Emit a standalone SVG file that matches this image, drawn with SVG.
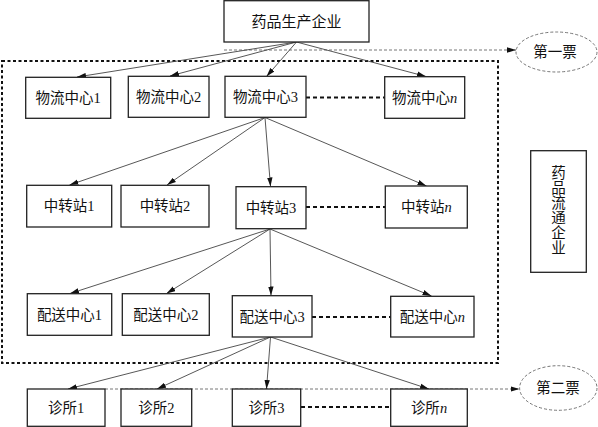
<svg xmlns="http://www.w3.org/2000/svg" width="598" height="427" viewBox="0 0 598 427">
<defs>
<marker id="ah" markerUnits="userSpaceOnUse" markerWidth="9" markerHeight="6" refX="9" refY="3" orient="auto">
<path d="M0,0.3 L9,3 L0,5.7 z" fill="#111"/>
</marker>
<style>
.box{fill:#fff;stroke:#222;stroke-width:1.3}
.t{font-family:"Liberation Serif","Noto Sans CJK SC",serif;font-size:14.5px;fill:#111;text-anchor:middle}
.e{fill:none;stroke:#444;stroke-width:0.9}
.dots{stroke:#111;stroke-width:2;stroke-dasharray:4 3;fill:none}
.gd{stroke:#777;stroke-width:1;stroke-dasharray:3 2;fill:none}
.ell{fill:#fff;stroke:#666;stroke-width:0.9;stroke-dasharray:3 2}
</style>
</defs>
<rect x="2" y="61" width="496" height="302" fill="none" stroke="#111" stroke-width="2" stroke-dasharray="3 2.5"/>
<g id="connectors">
<line class="gd" x1="224" y1="50" x2="516" y2="50" marker-end="url(#ah)"/>
<line class="gd" x1="105" y1="389" x2="519.5" y2="389" marker-end="url(#ah)"/>
<line class="e" x1="296.5" y1="42" x2="77" y2="77" marker-end="url(#ah)"/>
<line class="e" x1="296.5" y1="42" x2="170" y2="76" marker-end="url(#ah)"/>
<line class="e" x1="296.5" y1="42" x2="266.5" y2="76.5" marker-end="url(#ah)"/>
<line class="e" x1="296.5" y1="42" x2="426" y2="76.5" marker-end="url(#ah)"/>
<line class="e" x1="265" y1="117.5" x2="69.5" y2="185" marker-end="url(#ah)"/>
<line class="e" x1="265" y1="117.5" x2="167" y2="185" marker-end="url(#ah)"/>
<line class="e" x1="265" y1="117.5" x2="270.5" y2="186.5" marker-end="url(#ah)"/>
<line class="e" x1="265" y1="117.5" x2="426.5" y2="186" marker-end="url(#ah)"/>
<line class="e" x1="270" y1="229" x2="70" y2="293.5" marker-end="url(#ah)"/>
<line class="e" x1="270" y1="229" x2="166.5" y2="293.5" marker-end="url(#ah)"/>
<line class="e" x1="270" y1="229" x2="271" y2="295.5" marker-end="url(#ah)"/>
<line class="e" x1="270" y1="229" x2="431.5" y2="296" marker-end="url(#ah)"/>
<line class="e" x1="270.5" y1="337" x2="68" y2="389" marker-end="url(#ah)"/>
<line class="e" x1="270.5" y1="337" x2="157" y2="389" marker-end="url(#ah)"/>
<line class="e" x1="270.5" y1="337" x2="266.5" y2="389" marker-end="url(#ah)"/>
<line class="e" x1="270.5" y1="337" x2="429" y2="389" marker-end="url(#ah)"/>
<line class="dots" x1="306" y1="97.5" x2="385" y2="97.5"/>
<line class="dots" x1="306" y1="207" x2="385" y2="207"/>
<line class="dots" x1="312" y1="317" x2="391" y2="317"/>
<line class="dots" x1="301" y1="407" x2="391" y2="407"/>
</g>
<g id="producer"><rect class="box" x="224" y="0.7" width="145" height="41.3"/><text class="t" x="296.5" y="26.5" style="font-size:15px">药品生产企业</text></g>
<g id="ticket1"><ellipse class="ell" cx="556.5" cy="52" rx="40.5" ry="20"/><text class="t" x="555" y="57">第一票</text></g>
<g id="ticket2"><ellipse class="ell" cx="558.3" cy="388" rx="38.7" ry="22.3"/><text class="t" x="558" y="393">第二票</text></g>
<g id="wl1"><rect class="box" x="25.7" y="77.3" width="85" height="41"/><text class="t" x="68.2" y="103">物流中心1</text></g>
<g id="wl2"><rect class="box" x="128.3" y="76.3" width="80.7" height="41"/><text class="t" x="168.6" y="102">物流中心2</text></g>
<g id="wl3"><rect class="box" x="225" y="76.3" width="81" height="41"/><text class="t" x="265.5" y="102">物流中心3</text></g>
<g id="wln"><rect class="box" x="384.7" y="76.7" width="80" height="41.6"/><text class="t" x="424.7" y="102.5">物流中心<tspan font-style="italic">n</tspan></text></g>
<g id="zz1"><rect class="box" x="26.7" y="185.3" width="85" height="41.7"/><text class="t" x="69.2" y="211">中转站1</text></g>
<g id="zz2"><rect class="box" x="121" y="185.3" width="88" height="41.7"/><text class="t" x="165" y="211">中转站2</text></g>
<g id="zz3"><rect class="box" x="236" y="186.7" width="70" height="42"/><text class="t" x="271" y="212.5">中转站3</text></g>
<g id="zzn"><rect class="box" x="385.3" y="186" width="82" height="42"/><text class="t" x="426.3" y="212">中转站<tspan font-style="italic">n</tspan></text></g>
<g id="ps1"><rect class="box" x="27.3" y="293.7" width="84.4" height="41.6"/><text class="t" x="69.5" y="319.5">配送中心1</text></g>
<g id="ps2"><rect class="box" x="122.3" y="293.7" width="87" height="41.6"/><text class="t" x="165.8" y="319.5">配送中心2</text></g>
<g id="ps3"><rect class="box" x="232.3" y="295.7" width="79.7" height="41.3"/><text class="t" x="272.2" y="321.5">配送中心3</text></g>
<g id="psn"><rect class="box" x="390.7" y="296.3" width="83.3" height="40.7"/><text class="t" x="432.3" y="322">配送中心<tspan font-style="italic">n</tspan></text></g>
<g id="zs1"><rect class="box" x="27.3" y="389" width="77.7" height="37.3"/><text class="t" x="66.2" y="413">诊所1</text></g>
<g id="zs2"><rect class="box" x="121" y="389" width="70.7" height="37.3"/><text class="t" x="156.3" y="413">诊所2</text></g>
<g id="zs3"><rect class="box" x="232.3" y="389" width="68.4" height="37.3"/><text class="t" x="266.5" y="413">诊所3</text></g>
<g id="zsn"><rect class="box" x="390.7" y="389" width="76.6" height="37.3"/><text class="t" x="429" y="413">诊所<tspan font-style="italic">n</tspan></text></g>
<g id="distributor"><rect class="box" x="530.7" y="150.7" width="55.6" height="121.6"/>
<text class="t" x="558.5" y="178">药</text><text class="t" x="558.5" y="193">品</text><text class="t" x="558.5" y="208">流</text><text class="t" x="558.5" y="223">通</text><text class="t" x="558.5" y="238">企</text><text class="t" x="558.5" y="253">业</text></g>
</svg>
